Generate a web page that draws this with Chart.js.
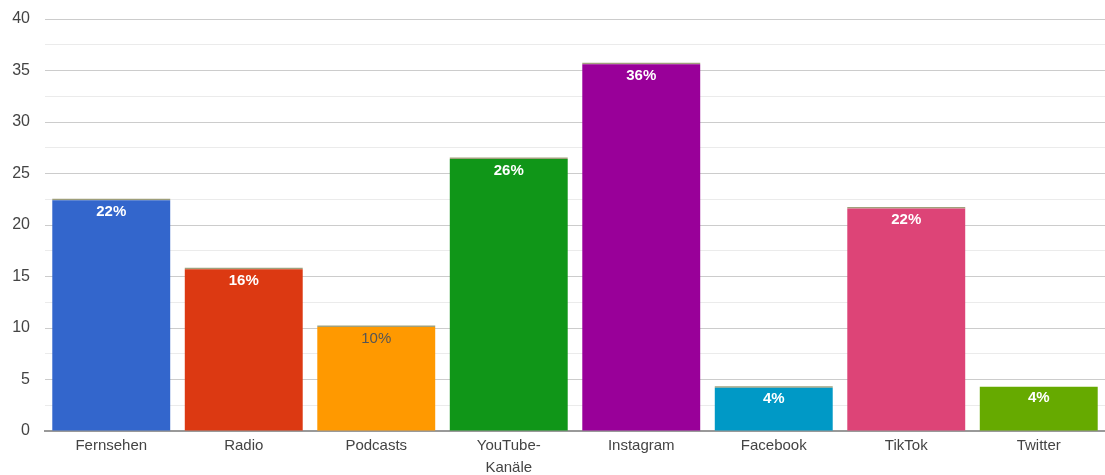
<!DOCTYPE html>
<html>
<head>
<meta charset="utf-8">
<script src="https://cdn.jsdelivr.net/npm/chart.js@4"></script>
<style>
  html, body { margin: 0; padding: 0; background: #fff; }
  #wrap { width: 1105px; height: 475px; }
</style>
</head>
<body>
<div id="wrap"><canvas id="chart"></canvas></div>
<script>
const categories = ["Fernsehen", "Radio", "Podcasts", ["YouTube-", "Kanäle"], "Instagram", "Facebook", "TikTok", "Twitter"];
const values = [22.4, 15.7, 10.1, 26.4, 35.6, 4.2, 21.6, 4.3];
const topValues = [0.15, 0.15, 0.15, 0.15, 0.15, 0.15, 0.15, 0];
const percentLabels = ["22%", "16%", "10%", "26%", "36%", "4%", "22%", "4%"];
const barColors = ["#3366cc", "#dc3912", "#ff9900", "#109618", "#990099", "#0099c6", "#dd4477", "#66aa00"];
const labelColors = ["#fff", "#fff", "#555", "#fff", "#fff", "#fff", "#fff", "#fff"];

const FONT = "Arial, 'Liberation Sans', sans-serif";

// draws the percentage just inside the top of each bar
const barLabels = {
  id: "barLabels",
  afterDatasetsDraw(chart) {
    const ctx = chart.ctx;
    const meta = chart.getDatasetMeta(0);
    ctx.save();
    ctx.textAlign = "center";
    ctx.textBaseline = "top";
    meta.data.forEach((bar, i) => {
      ctx.font = (i === 2 ? "normal " : "bold ") + "15px " + FONT;
      ctx.fillStyle = labelColors[i];
      ctx.fillText(percentLabels[i], bar.x, bar.y + 4);
    });
    ctx.restore();
  }
};

new Chart(document.getElementById("chart"), {
  type: "bar",
  data: {
    labels: categories,
    datasets: [
      {
        data: values,
        backgroundColor: barColors,
        barPercentage: 0.89,
        categoryPercentage: 1
      },
      {
        data: topValues,
        backgroundColor: "rgba(150,150,110,0.9)",
        barPercentage: 0.89,
        categoryPercentage: 1
      }
    ]
  },
  options: {
    responsive: true,
    maintainAspectRatio: false,
    animation: false,
    layout: { padding: { top: 19, right: 0, left: 0, bottom: 0 } },
    plugins: {
      legend: { display: false },
      tooltip: { enabled: false }
    },
    scales: {
      x: {
        stacked: true,
        grid: { display: false, drawTicks: false },
        border: { color: "#999", width: 2 },
        afterFit: s => { s.height = 44; s.paddingLeft = 0; s.paddingRight = 0; },
        ticks: {
          color: "#444",
          font: { size: 15, family: FONT, lineHeight: 1.45 },
          padding: 4,
          maxRotation: 0
        }
      },
      y: {
        stacked: true,
        min: 0,
        max: 40,
        afterFit: s => { s.width = 45; s.paddingTop = 0; s.paddingBottom = 0; },
        border: { display: false },
        grid: {
          drawTicks: false,
          color: c => (c.tick.value % 5 === 0 ? "#cccccc" : "#ebebeb")
        },
        ticks: {
          stepSize: 2.5,
          padding: 15,
          color: "#444",
          font: { size: 16, family: FONT },
          callback: v => (v % 5 === 0 ? v : "")
        }
      }
    }
  },
  plugins: [barLabels]
});
</script>
</body>
</html>
